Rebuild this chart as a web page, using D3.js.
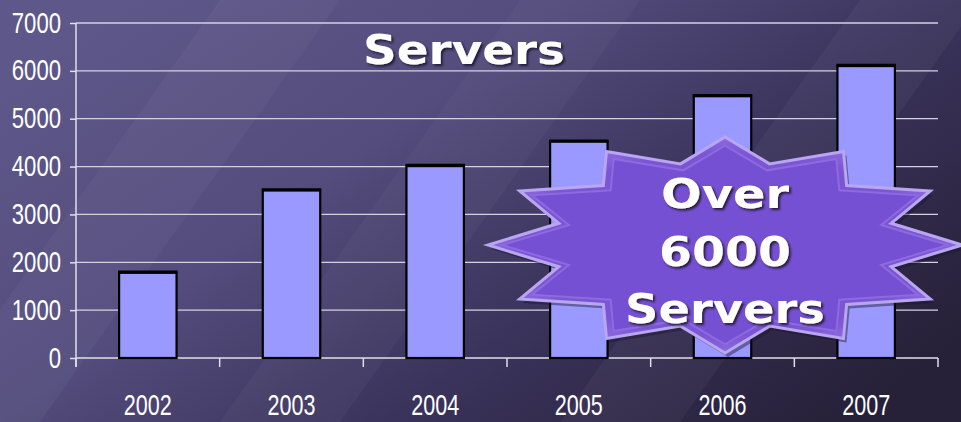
<!DOCTYPE html>
<html>
<head>
<meta charset="utf-8">
<script src="https://cdn.jsdelivr.net/npm/d3@7"></script>
<style>
  html, body { margin: 0; padding: 0; background: #3b3558; }
  svg { display: block; }
</style>
</head>
<body>
<div id="chart"></div>
<script>
// chart data
const years = ["2002", "2003", "2004", "2005", "2006", "2007"];
const servers = [1780, 3500, 4010, 4520, 5470, 6100];
const yTicks = [0, 1000, 2000, 3000, 4000, 5000, 6000, 7000];
const burstLines = ["Over", "6000", "Servers"];

const W = 961, H = 422;
const margin = { left: 76, right: 23, top: 23, bottom: 64 };

const svg = d3.select("#chart").append("svg")
  .attr("width", W)
  .attr("height", H);

const defs = svg.append("defs");

// background gradient
const bg = defs.append("linearGradient")
  .attr("id", "bg")
  .attr("x1", "0%").attr("y1", "20%")
  .attr("x2", "100%").attr("y2", "80%");
bg.append("stop").attr("offset", "0%").attr("stop-color", "#5e5789");
bg.append("stop").attr("offset", "35%").attr("stop-color", "#534c7c");
bg.append("stop").attr("offset", "65%").attr("stop-color", "#3a335b");
bg.append("stop").attr("offset", "100%").attr("stop-color", "#262038");

const burstGrad = defs.append("radialGradient")
  .attr("id", "burst")
  .attr("cx", "50%").attr("cy", "50%").attr("r", "60%");
burstGrad.append("stop").attr("offset", "0%").attr("stop-color", "#7a52d6");
burstGrad.append("stop").attr("offset", "70%").attr("stop-color", "#7b55d4");
burstGrad.append("stop").attr("offset", "100%").attr("stop-color", "#a385ec");

const shadow = defs.append("filter").attr("id", "shadow")
  .attr("x", "-10%").attr("y", "-10%").attr("width", "130%").attr("height", "130%");
shadow.append("feDropShadow")
  .attr("dx", 2).attr("dy", 2).attr("stdDeviation", 0.8)
  .attr("flood-color", "#1a1530").attr("flood-opacity", 0.9);

svg.append("rect").attr("width", W).attr("height", H).attr("fill", "url(#bg)");

// soft diagonal streaks
const streaks = [[-80, 0.04], [220, 0.03], [560, 0.04]];
svg.selectAll(".streak").data(streaks).enter().append("path")
  .attr("d", d => `M${d[0]},${H} L${d[0] + 300},0 L${d[0] + 420},0 L${d[0] + 120},${H} Z`)
  .attr("fill", "#ffffff")
  .attr("opacity", d => d[1]);

const x = d3.scaleBand()
  .domain(years)
  .range([margin.left, W - margin.right])
  .paddingInner(0.6)
  .paddingOuter(0.3);

const y = d3.scaleLinear()
  .domain([0, 7000])
  .range([H - margin.bottom, margin.top]);

// gridlines
svg.append("g")
  .selectAll("line")
  .data(yTicks.slice(1))
  .enter().append("line")
  .attr("x1", margin.left).attr("x2", W - margin.right)
  .attr("y1", d => y(d)).attr("y2", d => y(d))
  .attr("stroke", "#d4d2e2")
  .attr("stroke-width", 1.3);

// y axis
const yAxis = svg.append("g")
  .attr("transform", `translate(${margin.left},0)`)
  .call(d3.axisLeft(y).tickValues(yTicks).tickFormat(d3.format("d"))
    .tickSize(6).tickSizeOuter(0).tickPadding(9));
yAxis.select(".domain").attr("stroke", "#e0dfea").attr("stroke-width", 1.5)
  .attr("d", `M0,${y(7000)}V${y(0) + 9}`);
yAxis.selectAll(".tick line").attr("stroke", "#e0dfea").attr("stroke-width", 1.5);
yAxis.selectAll(".tick text")
  .attr("fill", "#ffffff")
  .attr("font-family", "Liberation Sans, Arial, sans-serif")
  .attr("font-size", 30)
  .attr("dy", "0.3em")
  .attr("textLength", d => String(d).length * 12.3)
  .attr("lengthAdjust", "spacingAndGlyphs");

// x axis
const xBoundaries = d3.range(years.length + 1).map(i => margin.left + i * x.step());
const xAxis = svg.append("g")
  .attr("transform", `translate(0,${y(0)})`);
xAxis.append("line")
  .attr("x1", margin.left).attr("x2", W - margin.right)
  .attr("stroke", "#e0dfea").attr("stroke-width", 1.5);
xAxis.selectAll(".xtick").data(xBoundaries).enter().append("line")
  .attr("x1", d => d).attr("x2", d => d)
  .attr("y1", 0).attr("y2", 9)
  .attr("stroke", "#e0dfea").attr("stroke-width", 1.5);
xAxis.selectAll(".xlabel").data(years).enter().append("text")
  .attr("x", d => x(d) + x.bandwidth() / 2)
  .attr("y", 57)
  .attr("text-anchor", "middle")
  .attr("fill", "#ffffff")
  .attr("font-family", "Liberation Sans, Arial, sans-serif")
  .attr("font-size", 30)
  .attr("textLength", 48)
  .attr("lengthAdjust", "spacingAndGlyphs")
  .text(d => d);

// bars
svg.append("g")
  .selectAll("rect")
  .data(servers)
  .enter().append("rect")
  .attr("x", (d, i) => x(years[i]))
  .attr("y", d => y(d))
  .attr("width", x.bandwidth())
  .attr("height", d => y(0) - y(d))
  .attr("fill", "#9999ff")
  .attr("stroke", "#000000")
  .attr("stroke-width", 2.2);
// heavier top edge
svg.append("g")
  .selectAll("line")
  .data(servers)
  .enter().append("line")
  .attr("x1", (d, i) => x(years[i]) - 1)
  .attr("x2", (d, i) => x(years[i]) + x.bandwidth() + 1)
  .attr("y1", d => y(d) - 1).attr("y2", d => y(d) - 1)
  .attr("stroke", "#000000")
  .attr("stroke-width", 2.5);

// title
svg.append("text")
  .attr("x", 464).attr("y", 64)
  .attr("text-anchor", "middle")
  .attr("fill", "#ffffff")
  .attr("font-family", "DejaVu Sans, Verdana, sans-serif")
  .attr("font-weight", "bold")
  .attr("font-size", 41)
  .attr("textLength", 202)
  .attr("lengthAdjust", "spacingAndGlyphs")
  .attr("filter", "url(#shadow)")
  .text("Servers");

// starburst callout
const cx = 725, cy = 245;
const points = d3.range(24).map(i => {
  const a = i * Math.PI / 12;
  const outer = i % 2 === 0;
  const rx = outer ? 237 : 172;
  const ry = outer ? 108 : 84;
  return [cx + rx * Math.cos(a), cy - ry * Math.sin(a)];
});
const burstPath = d3.line().curve(d3.curveLinearClosed)(points);

svg.append("path")
  .attr("d", burstPath)
  .attr("transform", "translate(3,4)")
  .attr("fill", "#1c1730")
  .attr("opacity", 0.45);
svg.append("path")
  .attr("d", burstPath)
  .attr("fill", "url(#burst)")
  .attr("stroke", "#b9a6f0")
  .attr("stroke-width", 3)
  .attr("stroke-linejoin", "miter");
// inner bevel
const innerPoints = points.map(p => [cx + (p[0] - cx) * 0.94, cy + (p[1] - cy) * 0.92]);
svg.append("path")
  .attr("d", d3.line().curve(d3.curveLinearClosed)(innerPoints))
  .attr("fill", "#7650d2")
  .attr("stroke", "#8d6ae0")
  .attr("stroke-width", 2);

svg.append("g")
  .selectAll("text")
  .data(burstLines)
  .enter().append("text")
  .attr("x", cx)
  .attr("y", (d, i) => 208 + i * 57.5)
  .attr("text-anchor", "middle")
  .attr("fill", "#ffffff")
  .attr("font-family", "DejaVu Sans, Verdana, sans-serif")
  .attr("font-weight", "bold")
  .attr("font-size", 41)
  .attr("textLength", d => d === "Servers" ? 200 : d === "Over" ? 128 : 132)
  .attr("lengthAdjust", "spacingAndGlyphs")
  .attr("filter", "url(#shadow)")
  .text(d => d);
</script>
</body>
</html>
